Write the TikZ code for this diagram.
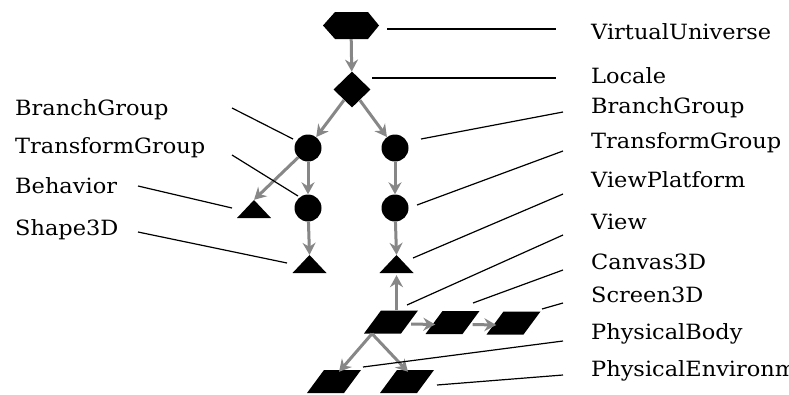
\documentclass[tikz,border=0pt]{standalone}
\usepackage{fontspec}
\setmainfont[FakeStretch=1.07]{DejaVu Serif}
\usetikzlibrary{arrows.meta,shapes.geometric}
\definecolor{arrgray}{RGB}{135,135,135}
\begin{document}
\begin{tikzpicture}[x=1pt,y=-1pt,
  lbl/.style={anchor=base west,inner sep=0pt,font=\fontsize{21}{25}\selectfont},
  ptr/.style={line width=1.2pt,black},
  arr/.style={draw=arrgray,line width=3pt,-{Stealth[length=12pt,width=13pt,inset=4pt]}},
  hexa/.style={inner sep=0pt,minimum width=56pt,minimum height=27pt,
    path picture={\fill (path picture bounding box.west)
      -- ([xshift=12pt]path picture bounding box.north west)
      -- ([xshift=-11pt]path picture bounding box.north east)
      -- (path picture bounding box.east)
      -- ([xshift=-11pt]path picture bounding box.south east)
      -- ([xshift=12pt]path picture bounding box.south west) -- cycle;}},
  dia/.style={diamond,fill=black,inner sep=0pt,minimum width=37pt,minimum height=36pt},
  dot/.style={circle,fill=black,inner sep=0pt,minimum size=27pt},
  tri/.style={inner sep=0pt,minimum width=34pt,minimum height=18pt,
    path picture={\fill (path picture bounding box.south west)
      -- (path picture bounding box.south east)
      -- (path picture bounding box.north) -- cycle;}},
  para/.style={inner sep=0pt,minimum width=54pt,minimum height=23pt,
    path picture={\fill (path picture bounding box.south west)
      -- ([xshift=-17pt]path picture bounding box.south east)
      -- (path picture bounding box.north east)
      -- ([xshift=17pt]path picture bounding box.north west) -- cycle;}}]
\useasboundingbox (0,0) rectangle (789,394);
\clip (0,0) rectangle (789,394);
\fill[white] (0,0) rectangle (789,394);

% shapes
\node[hexa] (vu) at (351,25.5) {};
\node[dia] (lo) at (352,89.5) {};
\node[dot] (bgl) at (308,148) {};
\node[dot] (bgr) at (395,148) {};
\node[dot] (tgl) at (308,208) {};
\node[dot] (vp) at (395,208) {};
\node[tri] (beh) at (254,209) {};
\node[tri] (sh) at (309.5,264) {};
\node[tri] (vtri) at (396.5,264) {};
\node[para] (view) at (391,322) {};
\node[para] (canvas) at (452.5,322.5) {};
\node[para] (screen) at (513.5,323) {};
\node[para] (pb) at (334,381.5) {};
\node[para] (pe) at (407,381.5) {};

% arrows
\draw[arr] (vu) -- (lo);
\draw[arr] (lo) -- (bgl);
\draw[arr] (lo) -- (bgr);
\draw[arr] (bgl) -- (beh.north);
\draw[arr] (bgl) -- (tgl);
\draw[arr] (tgl) -- (sh.north);
\draw[arr] (bgr) -- (vp);
\draw[arr] (vp) -- (vtri.north);
\draw[arr] (view.north -| vtri.south) -- ([yshift=-2pt]vtri.south);
\draw[arr] ([xshift=-7pt,yshift=-2pt]view.east) -- ([xshift=10pt,yshift=-2pt]canvas.west);
\draw[arr] ([xshift=-7pt,yshift=-2pt]canvas.east) -- ([xshift=10pt,yshift=-2pt]screen.west);
\draw[arr] ([xshift=-19pt]view.south) -- ([xshift=5pt,yshift=-2pt]pb.north);
\draw[arr] ([xshift=-19pt]view.south) -- ([xshift=1pt,yshift=-2pt]pe.north);

% labels
\node[lbl] (tVU) at (591,39) {VirtualUniverse};
\node[lbl] (tLO) at (591,83) {Locale};
\node[lbl] (tBGR) at (591,113) {BranchGroup};
\node[lbl] (tTGR) at (591,148) {TransformGroup};
\node[lbl] (tVP) at (591,187) {ViewPlatform};
\node[lbl] (tVI) at (591,229) {View};
\node[lbl] (tCA) at (591,269) {Canvas3D};
\node[lbl] (tSC) at (591,302) {Screen3D};
\node[lbl] (tPB) at (591,339) {PhysicalBody};
\node[lbl] (tPE) at (591,376) {PhysicalEnvironment};
\node[lbl] (tBGL) at (15,115) {BranchGroup};
\node[lbl] (tTGL) at (15,153) {TransformGroup};
\node[lbl] (tBE) at (15,193) {Behavior};
\node[lbl] (tSH) at (15,235) {Shape3D};

% pointer line ends
\coordinate (a1) at (387,29);  \coordinate (b1) at (556,29);
\coordinate (a2) at (372,78);  \coordinate (b2) at (556,78);
\coordinate (a3) at (421,139); \coordinate (b3) at (563,112);
\coordinate (a4) at (417,205); \coordinate (b4) at (563,151);
\coordinate (a5) at (413,258); \coordinate (b5) at (563,194);
\coordinate (a6) at (407,305); \coordinate (b6) at (563,235);
\coordinate (a7) at (473,303); \coordinate (b7) at (563,270);
\coordinate (a8) at (542,309); \coordinate (b8) at (563,303);
\coordinate (a9) at (363,367); \coordinate (b9) at (563,341);
\coordinate (a10) at (437,385); \coordinate (b10) at (563,375);
\coordinate (c1) at (232,108); \coordinate (d1) at (293,139);
\coordinate (c2) at (232,155); \coordinate (d2) at (298,196);
\coordinate (c3) at (138,186); \coordinate (d3) at (232,208);
\coordinate (c4) at (138,232); \coordinate (d4) at (287,263);

\foreach \i in {1,...,10} \draw[ptr] (a\i) -- (b\i);
\foreach \i in {1,...,4} \draw[ptr] (c\i) -- (d\i);
\end{tikzpicture}
\end{document}
